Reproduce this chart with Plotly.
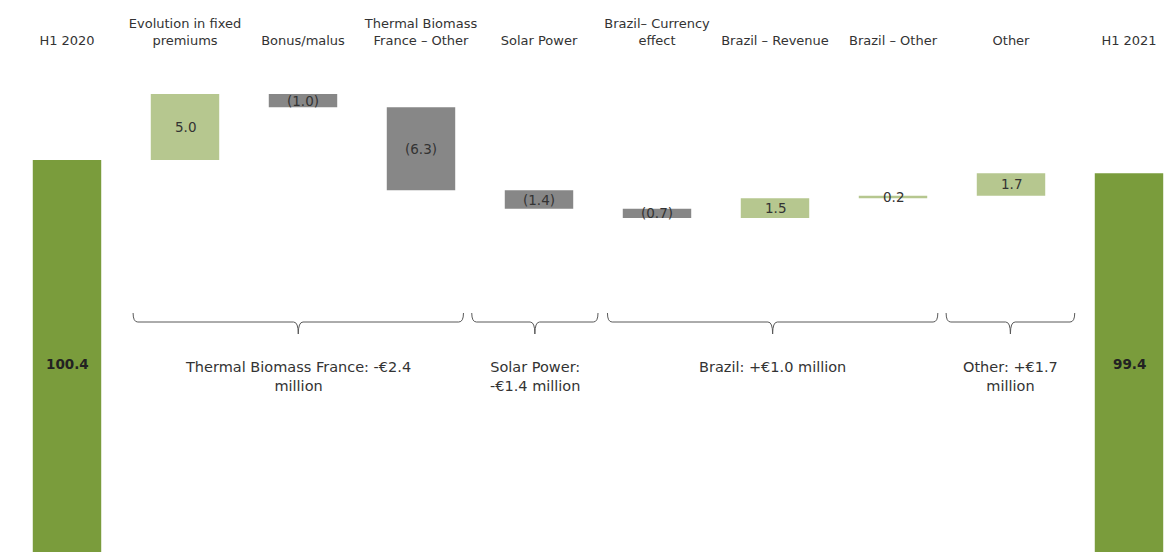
import plotly.graph_objects as go

categories = ["H1 2020", "Evolution in fixed<br>premiums", "Bonus/malus",
              "Thermal Biomass<br>France – Other", "Solar Power",
              "Brazil– Currency<br>effect", "Brazil – Revenue", "Brazil – Other",
              "Other", "H1 2021"]
values = [100.4, 5.0, -1.0, -6.3, -1.4, -0.7, 1.5, 0.2, 1.7, 99.4]
measures = ["absolute"] + ["relative"] * 8 + ["total"]
labels = ["100.4", "5.0", "(1.0)", "(6.3)", "(1.4)", "(0.7)", "1.5", "0.2", "1.7", "99.4"]

group_texts = ["Thermal Biomass France: -€2.4<br>million", "Solar Power:<br>-€1.4 million",
               "Brazil: +€1.0 million", "Other: +€1.7<br>million"]
group_first = [1, 4, 5, 8]
group_last = [3, 4, 7, 8]

W, H = 1173, 552
OFF = 8          # page body margin
TOP = 52
PXU = 13.2       # px per unit; 100.4 at screen y=160
def yval(py):
    return 100.4 - (py - 160) / PXU
y_range = [yval(H + OFF), yval(TOP + OFF)]
x_range = [(OFF - 67) / 118, (W + OFF - 67) / 118]
bracket_pads = [(0.44, 0.36), (0.57, 0.5), (0.42, 0.38), (0.55, 0.54)]

GREEN = "#7a9c3c"
LIGHT = "#b6c78f"
GRAY = "#878787"
FONT = "DejaVu Sans"
TXT = "#333333"

x = list(range(len(categories)))
fig = go.Figure(go.Waterfall(
    x=x, y=values, measure=measures, width=0.58,
    increasing=dict(marker=dict(color=LIGHT)),
    decreasing=dict(marker=dict(color=GRAY)),
    totals=dict(marker=dict(color=GREEN)),
    connector=dict(visible=False),
    hoverinfo="skip",
))

cum = 0
annotations = []
for i, (v, m, lab) in enumerate(zip(values, measures, labels)):
    if m == "relative":
        mid = cum + v / 2
        cum += v
        annotations.append(dict(x=i, y=mid, text=lab, showarrow=False,
                                font=dict(family=FONT, size=13.5, color=TXT),
                                xref="x", yref="y"))
    else:
        cum = v
        annotations.append(dict(x=i, y=yval(364), text="<b>" + lab + "</b>", showarrow=False,
                                font=dict(family=FONT, size=13.5, color="#222222"),
                                xref="x", yref="y"))

shapes = []
for text, a, b, (pl, pr) in zip(group_texts, group_first, group_last, bracket_pads):
    x0, x1 = a - pl, b + pr
    xc = (x0 + x1) / 2
    yt, ym, yb = yval(313), yval(322), yval(334)
    d = 0.04
    path = (f"M {x0},{yt} Q {x0},{ym} {x0+d},{ym} L {xc-d},{ym} Q {xc},{ym} {xc},{yb} "
            f"M {xc},{yb} Q {xc},{ym} {xc+d},{ym} L {x1-d},{ym} Q {x1},{ym} {x1},{yt}")
    shapes.append(dict(type="path", path=path, xref="x", yref="y",
                       line=dict(color="#595959", width=1)))
    annotations.append(dict(x=xc, y=yval(357), text=text, showarrow=False, yanchor="top",
                            font=dict(family=FONT, size=14.5, color=TXT), xref="x", yref="y"))

fig.update_layout(
    width=W, height=H,
    margin=dict(l=0, r=0, t=TOP, b=0),
    paper_bgcolor="white", plot_bgcolor="white",
    showlegend=False,
    annotations=annotations, shapes=shapes,
    xaxis=dict(side="top", tickmode="array", tickvals=x, ticktext=categories,
               range=x_range, showgrid=False, zeroline=False, showline=False,
               ticks="", ticklabelstandoff=11,
               tickfont=dict(family=FONT, size=13, color=TXT)),
    yaxis=dict(range=y_range, visible=False, showgrid=False, zeroline=False),
)
fig.write_html("out.html")
